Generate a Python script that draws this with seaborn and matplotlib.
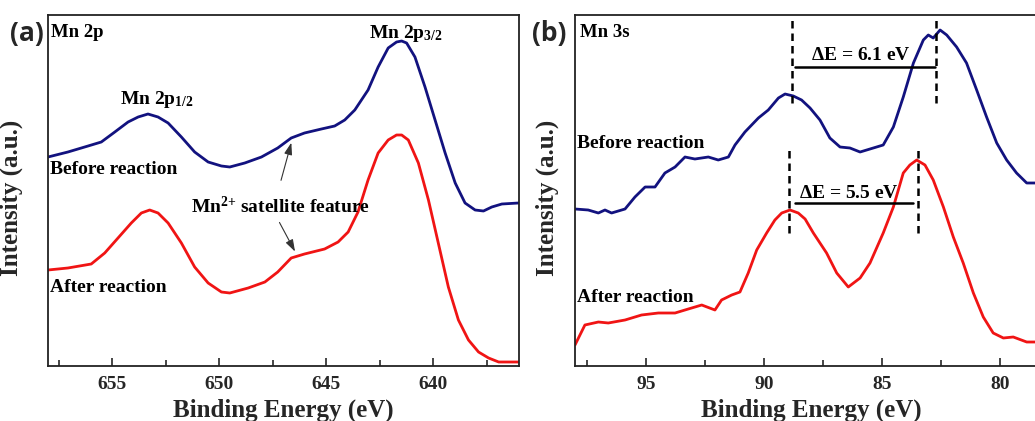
import numpy as np
import pandas as pd
import matplotlib
matplotlib.use("Agg")
import matplotlib.pyplot as plt
import seaborn as sns

# ---------------- data ----------------
# Panel (a) Mn 2p
mn2p_before_E = [658.0, 657.07, 656.13, 655.51, 654.88, 654.26, 653.79, 653.33, 652.86, 652.39,
                 651.77, 651.15, 650.52, 649.90, 649.51, 648.81, 648.03, 647.27, 646.64, 646.02,
                 645.23, 644.61, 644.14, 643.67, 643.05, 642.58, 642.11, 641.72, 641.48, 641.25,
                 640.86, 640.39, 639.92, 639.45, 638.98, 638.52, 638.05, 637.66, 637.27, 636.80,
                 636.02]
mn2p_before_I = [209, 214, 220, 224, 234, 244, 249, 252, 249, 243,
                 229, 214, 204, 200, 199, 203, 209, 218, 228, 233,
                 237, 240, 246, 256, 276, 299, 318, 324, 325, 323,
                 309, 279, 246, 213, 183, 163, 156, 155, 159, 162,
                 163]

mn2p_after_E = [658.0, 657.07, 655.98, 655.35, 654.73, 654.11, 653.64, 653.25, 652.86, 652.39,
                651.77, 651.15, 650.52, 649.90, 649.51, 648.65, 647.87, 647.27, 646.64, 646.02,
                645.08, 644.45, 643.98, 643.52, 643.05, 642.58, 642.11, 641.72, 641.48, 641.17,
                640.70, 640.23, 639.77, 639.30, 638.83, 638.36, 637.89, 637.42, 636.95, 636.02]
mn2p_after_I = [96, 98, 102, 113, 128, 143, 153, 156, 153, 143,
                123, 99, 83, 74, 73, 78, 84, 94, 108, 112,
                117, 124, 134, 154, 186, 213, 226, 231, 231, 226,
                203, 166, 123, 79, 46, 26, 14, 8, 4, 4]

# Panel (b) Mn 3s
mn3s_before_E = [98.0, 97.44, 97.01, 96.73, 96.45, 95.88, 95.46, 95.03, 94.61, 94.19,
                 93.76, 93.34, 92.92, 92.35, 91.93, 91.50, 91.22, 90.80, 90.23, 89.81,
                 89.38, 89.10, 88.75, 88.40, 88.04, 87.62, 87.20, 86.77, 86.35, 85.92,
                 85.36, 84.94, 84.51, 84.09, 83.66, 83.24, 83.03, 82.82, 82.53, 82.25,
                 81.83, 81.41, 80.98, 80.56, 80.13, 79.71, 79.29, 78.86, 78.51]
mn3s_before_I = [157, 156, 153, 156, 153, 157, 169, 179, 179, 193,
                 199, 209, 207, 209, 206, 209, 221, 234, 248, 256,
                 268, 272, 270, 266, 258, 246, 228, 219, 218, 214,
                 218, 221, 239, 269, 303, 326, 331, 328, 336, 331,
                 319, 303, 276, 249, 223, 206, 193, 183, 183]

mn3s_after_E = [98.0, 97.58, 97.01, 96.59, 95.88, 95.18, 94.47, 93.76, 93.20, 92.63,
                92.07, 91.79, 91.36, 91.01, 90.66, 90.30, 89.88, 89.53, 89.24, 88.89,
                88.54, 88.25, 87.90, 87.34, 86.91, 86.42, 85.92, 85.50, 84.94, 84.51,
                84.09, 83.81, 83.52, 83.17, 82.82, 82.39, 81.97, 81.55, 81.12, 80.70,
                80.28, 79.85, 79.43, 78.86, 78.51]
mn3s_after_I = [21, 41, 44, 43, 46, 51, 53, 53, 57, 61,
                56, 66, 71, 74, 93, 116, 133, 146, 153, 156,
                153, 147, 133, 113, 93, 79, 88, 103, 133, 159,
                193, 201, 206, 201, 186, 159, 129, 103, 73, 49,
                33, 28, 29, 24, 24]

# peak positions for the ΔE markers (eV)
before_peaks = [88.8, 82.7]
after_peaks = [88.95, 83.45]

xticks_a = [655, 650, 645, 640]
xticks_b = [95, 90, 85, 80]

NAVY = "#12127f"
RED = "#f01414"

# ---------------- style ----------------
sns.set_theme(style="ticks")
plt.rcParams["font.family"] = ["Liberation Serif", "DejaVu Serif"]
plt.rcParams["font.weight"] = "bold"
plt.rcParams["mathtext.fontset"] = "custom"
plt.rcParams["mathtext.rm"] = "Liberation Serif:bold"
plt.rcParams["mathtext.bf"] = "Liberation Serif:bold"
plt.rcParams["mathtext.it"] = "Liberation Serif:bold"
plt.rcParams["mathtext.default"] = "bf"

W, H = 1035, 421
fig = plt.figure(figsize=(W / 100, H / 100), dpi=100)
fig.patch.set_facecolor("white")

axA = fig.add_axes([48 / W, 1 - 366 / H, 471 / W, 351 / H])
axB = fig.add_axes([575 / W, 1 - 366 / H, 472 / W, 351 / H])


def draw(ax, E1, I1, E2, I2, xlim, ticks, minor):
    df1 = pd.DataFrame({"E": E1, "I": I1})
    df2 = pd.DataFrame({"E": E2, "I": I2})
    sns.lineplot(data=df1, x="E", y="I", ax=ax, color=NAVY, lw=2.0, estimator=None, sort=False)
    sns.lineplot(data=df2, x="E", y="I", ax=ax, color=RED, lw=2.0, estimator=None, sort=False)
    ax.set_xlim(*xlim)
    ax.set_ylim(0, 351)
    ax.set_xticks(ticks)
    ax.set_xticks(minor, minor=True)
    ax.set_yticks([])
    ax.tick_params(axis="x", which="major", direction="in", length=6, width=1.2,
                   labelsize=14, pad=7, top=False)
    ax.tick_params(axis="x", which="minor", direction="in", length=4, width=1.2, top=False)
    for lab in ax.get_xticklabels():
        lab.set_fontweight("bold")
    for s in ax.spines.values():
        s.set_linewidth(1.3)
        s.set_color("#222222")
    ax.set_xlabel("Binding Energy (eV)", fontsize=18, fontweight="bold", labelpad=4)
    ax.set_ylabel("Intensity (a.u.)", fontsize=18, fontweight="bold")


draw(axA, mn2p_before_E, mn2p_before_I, mn2p_after_E, mn2p_after_I,
     (658, 636), xticks_a, [657.5, 652.5, 647.5, 642.5, 637.5])
draw(axB, mn3s_before_E, mn3s_before_I, mn3s_after_E, mn3s_after_I,
     (98, 78), xticks_b, [97.5, 92.5, 87.5, 82.5])
axA.yaxis.set_label_coords(-0.053, 0.48)
axB.yaxis.set_label_coords(-0.034, 0.48)

# ---------------- panel (a) annotations ----------------
tk = dict(fontweight="bold", color="black")
axA.text(0.007, 0.949, "Mn 2p", transform=axA.transAxes, fontsize=13.5, va="center", ha="left", **tk)
axA.text(641.3, 333, r"Mn 2p$_{3/2}$", fontsize=14, ha="center", va="center", **tk)
axA.text(652.9, 266, r"Mn 2p$_{1/2}$", fontsize=14, ha="center", va="center", **tk)
axA.text(0.004, 196 / 351, "Before reaction", transform=axA.transAxes, fontsize=14,
         ha="left", va="center", **tk)
axA.text(0.004, 79 / 351, "After reaction", transform=axA.transAxes, fontsize=14,
         ha="left", va="center", **tk)
axA.text(651.3, 159, r"Mn$^{2{+}}$ satellite feature", fontsize=14, ha="left", va="center", **tk)
arr = dict(arrowstyle="-|>,head_length=0.6,head_width=0.2", color="#333333", lw=0.8)
axA.annotate("", xy=(646.6, 226), xytext=(647.15, 183), arrowprops=arr)
axA.annotate("", xy=(646.4, 112), xytext=(647.25, 146), arrowprops=arr)

# ---------------- panel (b) annotations ----------------
axB.text(0.011, 0.949, "Mn 3s", transform=axB.transAxes, fontsize=13.5, va="center", ha="left", **tk)
axB.text(0.004, 223 / 351, "Before reaction", transform=axB.transAxes, fontsize=14,
         ha="left", va="center", **tk)
axB.text(0.004, 69 / 351, "After reaction", transform=axB.transAxes, fontsize=14,
         ha="left", va="center", **tk)

for e in before_peaks:
    axB.plot([e, e], [263, 348], ls=(0, (3, 2)), color="black", lw=1.8)
axB.plot([88.68, 82.75], [299, 299], color="black", lw=1.8)
axB.text(85.9, 311, r"$\Delta$E = %.1f eV" % (before_peaks[0] - before_peaks[1]),
         fontsize=14, ha="center", va="center", **tk)

for e in after_peaks:
    axB.plot([e, e], [133, 217], ls=(0, (3, 2)), color="black", lw=1.8)
axB.plot([88.68, 83.69], [163, 163], color="black", lw=1.8)
axB.text(86.4, 173, r"$\Delta$E = %.1f eV" % (after_peaks[0] - after_peaks[1]),
         fontsize=14, ha="center", va="center", **tk)

# panel letters
fig.text(27 / W, 1 - 33 / H, "(a)", fontsize=19, fontweight="bold", family="Open Sans",
         ha="center", va="center")
fig.text(549 / W, 1 - 33 / H, "(b)", fontsize=19, fontweight="bold", family="Open Sans",
         ha="center", va="center")

fig.savefig("out.png", dpi=100)
